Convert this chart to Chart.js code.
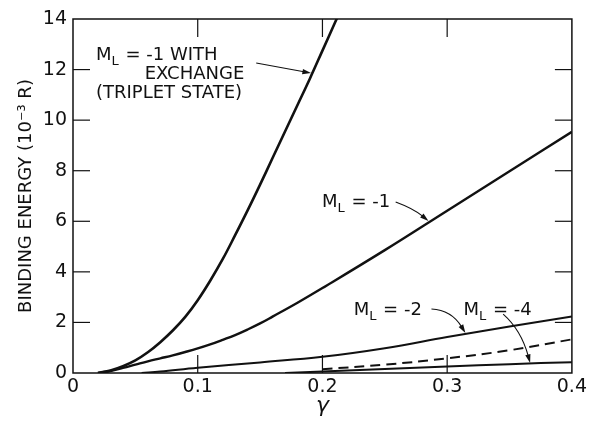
<!DOCTYPE html>
<html lang="en">
<head>
<meta charset="UTF-8">
<title>Binding energy vs gamma</title>
<script src="https://cdn.jsdelivr.net/npm/chart.js"></script>
<style>
    html, body { margin: 0; padding: 0; background: #fff; }
    .chart-container { width: 590px; height: 426px; }
</style>
</head>
<body>
<div class="chart-container">
    <canvas id="myChart" width="590" height="426"></canvas>
</div>
<script>
    const xTicks = [0, 0.1, 0.2, 0.3, 0.4];
    const yTicks = [0, 2, 4, 6, 8, 10, 12, 14];

    // M_L = -1 with exchange (triplet state)
    const exchGamma  = [0.02, 0.03, 0.04, 0.05, 0.06, 0.07, 0.08, 0.09, 0.10, 0.11, 0.12, 0.13, 0.14, 0.15, 0.16, 0.17, 0.18, 0.19, 0.20, 0.21, 0.22];
    const exchEnergy = [0, 0.1, 0.27, 0.5, 0.82, 1.22, 1.68, 2.22, 2.88, 3.65, 4.5, 5.45, 6.43, 7.45, 8.5, 9.55, 10.6, 11.65, 12.75, 13.85, 14.95];

    // M_L = -1
    const m1Gamma  = [0.02, 0.03, 0.04, 0.05, 0.06, 0.07, 0.08, 0.09, 0.10, 0.11, 0.12, 0.13, 0.14, 0.15, 0.16, 0.18, 0.20, 0.25, 0.30, 0.35, 0.40];
    const m1Energy = [0, 0.08, 0.2, 0.33, 0.46, 0.58, 0.7, 0.83, 0.97, 1.13, 1.31, 1.5, 1.72, 1.96, 2.23, 2.78, 3.36, 4.86, 6.42, 7.98, 9.54];

    // M_L = -2
    const m2Gamma  = [0.055, 0.07, 0.10, 0.15, 0.20, 0.25, 0.30, 0.35, 0.40];
    const m2Energy = [0, 0.06, 0.21, 0.42, 0.64, 0.98, 1.42, 1.84, 2.23];

    // dashed curve
    const dashGamma  = [0.20, 0.25, 0.30, 0.35, 0.40];
    const dashEnergy = [0.15, 0.33, 0.58, 0.9, 1.33];

    // M_L = -4
    const m4Gamma  = [0.17, 0.20, 0.25, 0.30, 0.35, 0.40];
    const m4Energy = [0, 0.06, 0.16, 0.26, 0.35, 0.43];

    const ink = '#111';
    const fontFamily = '"DejaVu Sans", sans-serif';

    function toPoints(xs, ys) {
        return xs.map((v, i) => ({ x: v, y: ys[i] }));
    }

    function curve(xs, ys, width, dash) {
        return {
            data: toPoints(xs, ys),
            borderColor: ink,
            borderWidth: width,
            borderDash: dash || [],
            pointRadius: 0,
            fill: false,
            tension: 0.4
        };
    }

    // labels and arrows, placed in data units
    const labels = [
        { x: 0.0184, y: 12.38, parts: [['M', 0], ['L', 1], [' = -1 WITH', 0]] },
        { x: 0.0575, y: 11.63, parts: [['EXCHANGE', 0]] },
        { x: 0.0184, y: 10.87, parts: [['(TRIPLET STATE)', 0]] },
        { x: 0.1996, y: 6.56, parts: [['M', 0], ['L', 1], [' = -1', 0]] },
        { x: 0.225, y: 2.29, parts: [['M', 0], ['L', 1], [' = -2', 0]] },
        { x: 0.313, y: 2.29, parts: [['M', 0], ['L', 1], [' = -4', 0]] }
    ];
    const arrows = [
        { from: [0.1469, 12.26], ctrl: [0.169, 12.06], to: [0.1908, 11.86] },
        { from: [0.2587, 6.76], ctrl: [0.273, 6.5], to: [0.285, 6.01] },
        { from: [0.2874, 2.53], ctrl: [0.3034, 2.49], to: [0.3146, 1.58] },
        { from: [0.3449, 2.33], ctrl: [0.3593, 1.70], to: [0.3665, 0.40] }
    ];

    const framePlugin = {
        id: 'frame',
        afterDatasetsDraw(chart) {
            const { ctx, chartArea: a, scales: { x, y } } = chart;
            const line = (x1, y1, x2, y2) => {
                ctx.beginPath(); ctx.moveTo(x1, y1); ctx.lineTo(x2, y2); ctx.stroke();
            };
            ctx.save();
            ctx.strokeStyle = ink;
            ctx.fillStyle = ink;
            ctx.lineWidth = 1.5;
            ctx.strokeRect(a.left, a.top, a.right - a.left, a.bottom - a.top);

            // inward ticks on all four sides
            ctx.lineWidth = 1.2;
            xTicks.slice(1, -1).forEach(v => {
                const px = x.getPixelForValue(v);
                line(px, a.bottom, px, a.bottom - 18);
                line(px, a.top, px, a.top + 18);
            });
            yTicks.slice(1, -1).forEach(v => {
                const py = y.getPixelForValue(v);
                line(a.left, py, a.left + 17, py);
                line(a.right, py, a.right - 17, py);
            });

            // text labels with subscript L
            ctx.textBaseline = 'alphabetic';
            ctx.textAlign = 'left';
            labels.forEach(lb => {
                let px = x.getPixelForValue(lb.x);
                const py = y.getPixelForValue(lb.y);
                lb.parts.forEach(([txt, sub]) => {
                    ctx.font = (sub ? '13px ' : '18px ') + fontFamily;
                    ctx.fillText(txt, px, py + (sub ? 5 : 0));
                    px += ctx.measureText(txt).width + (sub ? 1 : 0);
                });
            });

            // arrows
            ctx.lineWidth = 1.1;
            arrows.forEach(ar => {
                const p0 = [x.getPixelForValue(ar.from[0]), y.getPixelForValue(ar.from[1])];
                const pc = [x.getPixelForValue(ar.ctrl[0]), y.getPixelForValue(ar.ctrl[1])];
                const p1 = [x.getPixelForValue(ar.to[0]), y.getPixelForValue(ar.to[1])];
                const ang = Math.atan2(p1[1] - pc[1], p1[0] - pc[0]);
                const len = 9, half = 0.3;
                const bx = p1[0] - len * 0.8 * Math.cos(ang);
                const by = p1[1] - len * 0.8 * Math.sin(ang);
                ctx.beginPath();
                ctx.moveTo(p0[0], p0[1]);
                ctx.quadraticCurveTo(pc[0], pc[1], bx, by);
                ctx.stroke();
                ctx.beginPath();
                ctx.moveTo(p1[0], p1[1]);
                ctx.lineTo(p1[0] - len * Math.cos(ang - half), p1[1] - len * Math.sin(ang - half));
                ctx.lineTo(p1[0] - len * Math.cos(ang + half), p1[1] - len * Math.sin(ang + half));
                ctx.closePath();
                ctx.fill();
            });
            ctx.restore();
        }
    };

    const ctx = document.getElementById('myChart').getContext('2d');

    new Chart(ctx, {
        type: 'line',
        data: {
            datasets: [
                curve(exchGamma, exchEnergy, 2.6),
                curve(m1Gamma, m1Energy, 2.4),
                curve(m2Gamma, m2Energy, 2.0),
                curve(dashGamma, dashEnergy, 2.0, [10, 6]),
                curve(m4Gamma, m4Energy, 2.0)
            ]
        },
        options: {
            responsive: false,
            animation: false,
            layout: { padding: { top: 19, right: 16, left: 0, bottom: 0 } },
            plugins: {
                legend: { display: false },
                tooltip: { enabled: false }
            },
            scales: {
                x: {
                    type: 'linear',
                    min: 0,
                    max: 0.4,
                    afterBuildTicks(s) { s.ticks = xTicks.map(v => ({ value: v })); },
                    ticks: {
                        color: ink,
                        font: { family: fontFamily, size: 19 },
                        padding: 3,
                        maxRotation: 0,
                        callback: v => String(v)
                    },
                    grid: { display: false, drawTicks: false },
                    border: { display: false },
                    title: {
                        display: true,
                        text: 'γ',
                        color: ink,
                        font: { family: fontFamily, size: 22, style: 'italic' },
                        padding: { top: 0, bottom: 7 }
                    },
                    afterFit(s) { s.height = 53; }
                },
                y: {
                    type: 'linear',
                    min: 0,
                    max: 14,
                    afterBuildTicks(s) { s.ticks = yTicks.map(v => ({ value: v })); },
                    ticks: {
                        color: ink,
                        font: { family: fontFamily, size: 19 },
                        padding: 6
                    },
                    grid: { display: false, drawTicks: false },
                    border: { display: false },
                    title: {
                        display: true,
                        text: 'BINDING ENERGY (10⁻³ R)',
                        color: ink,
                        font: { family: fontFamily, size: 18 },
                        padding: { top: 16, bottom: 0 }
                    },
                    afterFit(s) { s.width = 73; }
                }
            }
        },
        plugins: [framePlugin]
    });
</script>
</body>
</html>
